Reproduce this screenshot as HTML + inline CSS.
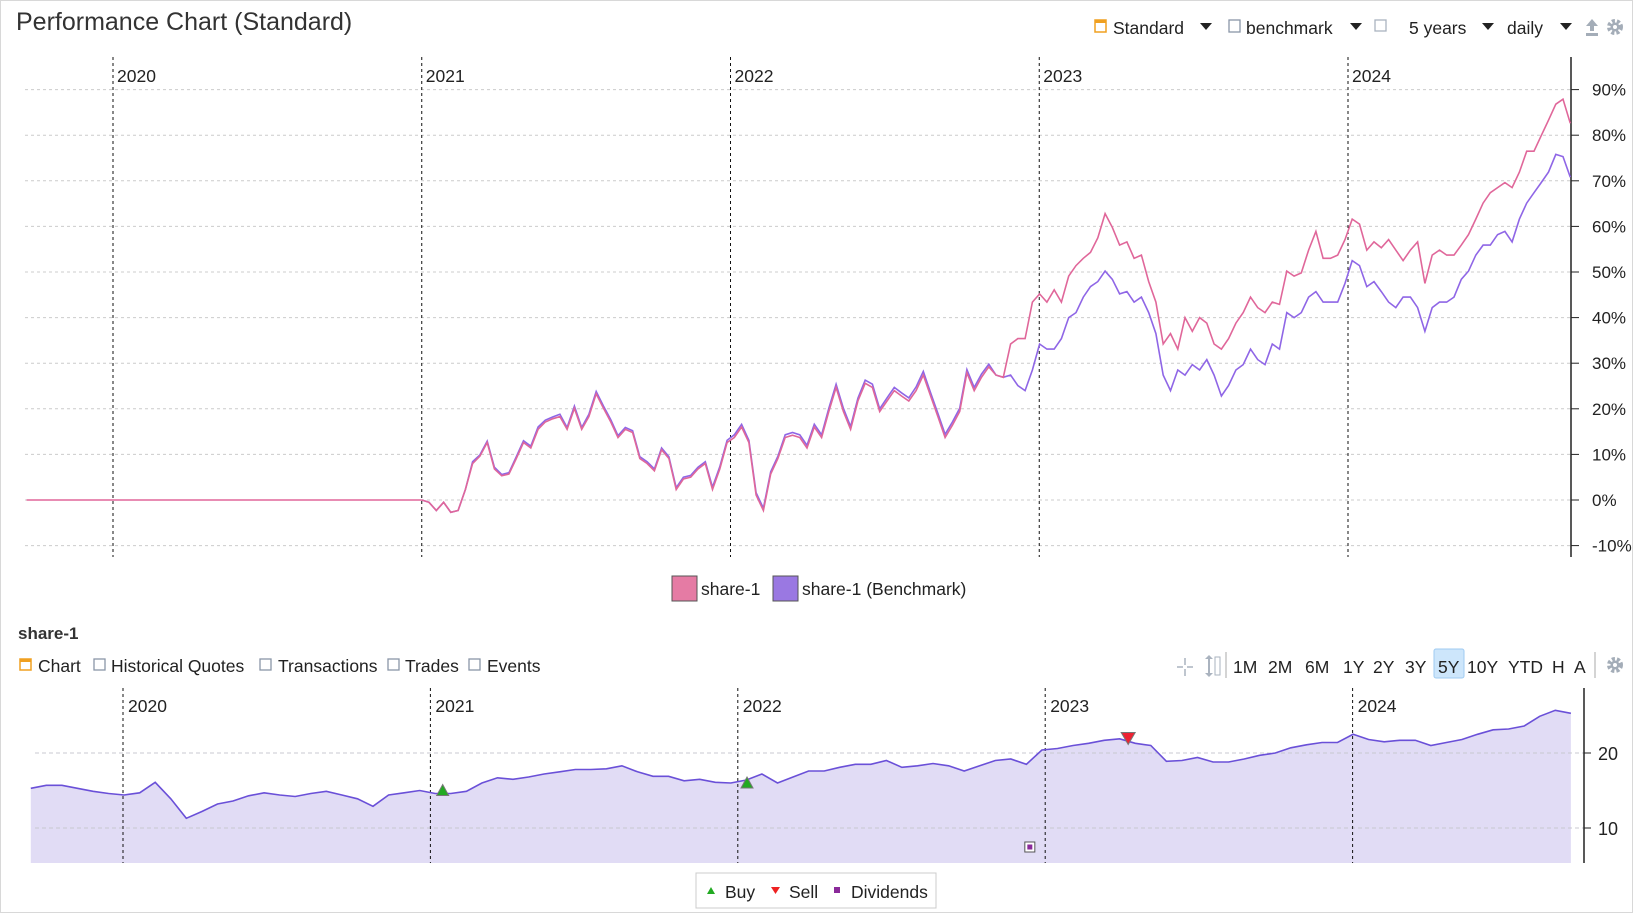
<!DOCTYPE html>
<html><head><meta charset="utf-8"><style>
html,body{margin:0;padding:0;background:#fff;width:1634px;height:914px;overflow:hidden}
svg{display:block;font-family:"Liberation Sans","DejaVu Sans",sans-serif}
</style></head><body>
<svg id="svg" width="1634" height="914" viewBox="0 0 1634 914" xmlns="http://www.w3.org/2000/svg">
<rect x="0.5" y="0.5" width="1632" height="912" fill="#fff" stroke="#d8d8d8"/>
<text x="16" y="30" font-size="25" fill="#333">Performance Chart (Standard)</text>
<g font-size="17.5" fill="#222">
 <g><rect x="1095" y="20" width="11" height="12" fill="none" stroke="#f0a020" stroke-width="1.5"/><rect x="1095" y="20" width="11" height="3" fill="#f0a020"/><text x="1113" y="34">Standard</text><path d="M1200 23h12l-6 7z" fill="#222"/></g>
 <g><rect x="1229" y="20" width="11" height="12" fill="none" stroke="#8a96a8" stroke-width="1.3"/><text x="1246" y="34">benchmark</text><path d="M1350 23h12l-6 7z" fill="#222"/></g>
 <g><rect x="1375" y="20" width="11" height="11" fill="none" stroke="#aab3bf" stroke-width="1.3"/></g>
 <g><text x="1409" y="34">5 years</text><path d="M1482 23h12l-6 7z" fill="#222"/></g>
 <g><text x="1507" y="34">daily</text><path d="M1560 23h12l-6 7z" fill="#222"/></g>
 <g><path d="M1586 26l6-7 6 7h-4v5h-4v-5z M1586 33h12v3h-12z" fill="#a4adb8"/></g>
 <g><circle cx="1615" cy="27" r="6" fill="none" stroke="#a4adb8" stroke-width="4" stroke-dasharray="3 2"/><circle cx="1615" cy="27" r="4.5" fill="#a4adb8"/><circle cx="1615" cy="27" r="2" fill="#fff"/></g>
</g>
<g id="main"></g>
<g font-size="17.5" fill="#222">
 <g><rect x="672" y="576" width="25" height="25" fill="#e57ba4" stroke="#555"/><text x="701" y="595">share-1</text></g>
 <g><rect x="773" y="576" width="25" height="25" fill="#9a78e2" stroke="#555"/><text x="802" y="595">share-1 (Benchmark)</text></g>
</g>
<text x="18" y="639" font-size="17" font-weight="bold" fill="#333">share-1</text>
<g font-size="17.5" fill="#222">
 <g><rect x="20" y="659" width="11" height="11" fill="none" stroke="#f0a020" stroke-width="1.5"/><rect x="20" y="659" width="11" height="3" fill="#f0a020"/><text x="38" y="672">Chart</text></g>
 <g><rect x="94" y="659" width="11" height="11" fill="none" stroke="#8a96a8" stroke-width="1.3"/><text x="111" y="672">Historical Quotes</text></g>
 <g><rect x="260" y="659" width="11" height="11" fill="none" stroke="#8a96a8" stroke-width="1.3"/><text x="278" y="672">Transactions</text></g>
 <g><rect x="388" y="659" width="11" height="11" fill="none" stroke="#8a96a8" stroke-width="1.3"/><text x="405" y="672">Trades</text></g>
 <g><rect x="469" y="659" width="11" height="11" fill="none" stroke="#8a96a8" stroke-width="1.3"/><text x="487" y="672">Events</text></g>
</g>
<g font-size="17.5" fill="#222">
 <g stroke="#aab3bf" stroke-width="1.5"><path d="M1185 658v7M1185 669v7M1177 667h6M1187 667h6"/></g>
 <g><path d="M1205 659l4-4 4 4zM1205 673l4 4 4-4z M1208 659h2v14h-2z" fill="#aab3bf"/><rect x="1215" y="657" width="5" height="18" fill="none" stroke="#aab3bf"/></g>
 <line x1="1226" y1="652" x2="1226" y2="678" stroke="#aaa"/>
 <rect x="1434" y="649" width="30" height="29" rx="2" fill="#cde6fb" stroke="#9fcbf2"/>
 <text x="1233" y="673">1M</text>
 <text x="1268" y="673">2M</text>
 <text x="1305" y="673">6M</text>
 <text x="1343" y="673">1Y</text>
 <text x="1373" y="673">2Y</text>
 <text x="1405" y="673">3Y</text>
 <text x="1438" y="673">5Y</text>
 <text x="1467" y="673">10Y</text>
 <text x="1508" y="673">YTD</text>
 <text x="1552" y="673">H</text>
 <text x="1574" y="673">A</text>
 <line x1="1595" y1="652" x2="1595" y2="678" stroke="#aaa"/>
 <g><circle cx="1615" cy="665" r="6" fill="none" stroke="#a4adb8" stroke-width="4" stroke-dasharray="3 2"/><circle cx="1615" cy="665" r="4.5" fill="#a4adb8"/><circle cx="1615" cy="665" r="2" fill="#fff"/></g>
</g>
<g id="price"></g>
<g font-size="17.5" fill="#222">
 <rect x="696" y="873" width="240" height="35" fill="#fff" stroke="#ccc"/>
 <g><path d="M707 894l4-7 4 7z" fill="#22aa22"/><text x="725" y="898">Buy</text></g>
 <g><path d="M771 887h9l-4.5 7z" fill="#ee2222"/><text x="789" y="898">Sell</text></g>
 <g><rect x="834" y="887" width="6" height="6" fill="#8a2a9a"/><text x="851" y="898">Dividends</text></g>
</g>
<script>
// ---- performance chart data ----
const perfStart = 2021.0, perfEnd = 2024.72, flatStart = 2019.72;
const shareValues = [0,-0.5,-2.3,-0.5,-2.7,-2.3,2.3,8.0,9.6,12.6,6.8,5.3,5.7,9.1,12.6,11.4,15.5,17.1,17.8,18.3,15.5,20.1,15.5,18.3,23.3,20.1,17.1,13.7,15.5,14.8,9.1,8.0,6.4,11.0,9.1,2.3,4.6,5.0,6.8,8.0,2.3,6.8,12.6,13.7,16.0,12.6,1.1,-2.3,5.7,9.1,13.7,14.2,13.7,11.4,16.0,13.7,19.4,24.7,19.4,15.5,21.7,25.6,24.7,19.4,21.7,24.0,22.8,21.7,24.0,27.4,22.8,18.3,13.7,16.4,19.4,27.9,24.0,26.9,29.2,27.4,26.9,34.2,35.4,35.4,43.4,45.2,43.4,46.1,43.4,49.1,51.4,53.0,54.3,57.5,62.8,59.8,55.9,56.6,53.0,53.7,47.9,43.4,34.2,36.5,33.1,40.0,37.0,40.0,38.8,34.2,33.1,35.4,38.8,41.1,44.5,42.2,41.1,43.4,42.9,50.2,49.1,49.8,54.8,58.9,53.0,53.0,53.7,57.1,61.6,60.5,54.8,56.6,55.3,57.1,54.8,52.5,54.8,56.6,47.5,53.7,54.8,53.7,53.7,55.9,58.2,61.6,65.1,67.4,68.5,69.6,68.5,71.9,76.5,76.5,79.9,83.3,86.8,87.9,82.6];
const benchValues = [0,-0.5,-2.3,-0.5,-2.7,-2.3,2.3,8.4,9.9,12.9,7.2,5.6,6.0,9.5,13.0,11.8,16.0,17.5,18.2,18.8,15.9,20.6,15.9,18.8,23.8,20.6,17.6,14.1,15.9,15.2,9.5,8.4,6.8,11.4,9.5,2.7,5.0,5.4,7.2,8.4,2.8,7.3,13.1,14.3,16.6,13.1,1.6,-1.8,6.2,9.6,14.3,14.8,14.3,12.0,16.6,14.3,20.1,25.4,20.1,16.1,22.3,26.3,25.4,20.0,22.4,24.7,23.5,22.4,24.8,28.2,23.5,19.0,14.4,17.1,20.1,28.6,24.7,27.6,29.8,27.4,26.9,27.4,25.1,24.0,28.5,34.2,33.1,33.1,35.4,40.0,41.1,44.5,46.8,47.9,50.2,48.4,45.2,45.7,43.4,44.5,41.1,36.5,27.4,24.0,28.5,27.4,29.7,28.5,30.8,27.4,22.8,25.1,28.5,29.7,33.1,30.8,29.7,34.2,33.1,41.1,40.0,41.1,44.5,45.7,43.4,43.4,43.4,47.5,52.5,51.4,46.8,47.9,45.7,43.4,42.2,44.5,44.5,42.2,37.0,42.2,43.4,43.4,44.5,48.4,50.2,53.7,55.9,55.9,58.2,58.9,56.6,61.6,65.1,67.4,69.6,71.9,75.8,75.3,70.8];
const perfTicks = [90,80,70,60,50,40,30,20,10,0,-10];
const yearTicks = [2020,2021,2022,2023,2024];
// ---- price chart data ----
const priceStart = 2019.70, priceEnd = 2024.71;
const priceValues = [15.3,15.7,15.7,15.3,14.9,14.6,14.4,14.7,16.1,13.9,11.3,12.2,13.2,13.6,14.3,14.7,14.4,14.2,14.6,14.9,14.4,13.9,12.9,14.4,14.7,15.0,14.6,14.6,14.9,16.0,16.7,16.5,16.8,17.2,17.5,17.8,17.8,17.9,18.3,17.5,16.9,16.9,16.3,16.5,16.1,16.0,16.4,17.2,16.0,16.8,17.6,17.6,18.1,18.5,18.5,19.0,18.1,18.3,18.6,18.3,17.6,18.3,19.0,19.2,18.5,20.4,20.6,21.0,21.3,21.7,21.9,21.3,21.0,18.9,19.0,19.4,18.8,18.8,19.2,19.7,20.0,20.7,21.1,21.4,21.4,22.5,21.8,21.5,21.7,21.7,21.0,21.4,21.8,22.5,23.1,23.2,23.6,24.9,25.7,25.3];
const priceTicks = [20,10];
const buyDates = [2021.04,2022.03], buyPrices = [15.0,16.0];
const sellDates = [2023.27], sellPrices = [21.8];
const dividendDates = [2022.95];

const NS='http://www.w3.org/2000/svg';
function mk(parent,tag,attrs){const e=document.createElementNS(NS,tag);for(const k in attrs)e.setAttribute(k,attrs[k]);parent.appendChild(e);return e;}

const main=document.getElementById('main');
const PX=y=>113+(y-2020)*308.75;
const PY=v=>500-v*4.56;
const pTop=57,pBot=557,pL=25,pR=1571;
perfTicks.forEach(t=>{
 const g=mk(main,'line',{x1:pL,x2:pR,y1:PY(t),y2:PY(t),stroke:'#ccc','stroke-dasharray':'3 3'});
 
 
 const tk=mk(main,'line',{x1:pR,x2:pR+8,y1:PY(t),y2:PY(t),stroke:'#222'});
 
 
 const tx=mk(main,'text',{x:1592,y:PY(t)+6,'font-size':17,fill:'#222'});
 tx.textContent=t+'%';
 
 
});
yearTicks.forEach(yr=>{
 const l=mk(main,'line',{x1:PX(yr),x2:PX(yr),y1:pTop,y2:pBot,stroke:'#111','stroke-dasharray':'3 3'});
 
 
 const t=mk(main,'text',{x:PX(yr)+4,y:82,'font-size':17.5,fill:'#222'});
 t.textContent=yr;
 
 
});
const ax=mk(main,'line',{x1:pR,x2:pR,y1:pTop,y2:pBot,stroke:'#222','stroke-width':1.5});


function linePath(vals,start,end){const n=vals.length;return vals.map((v,i)=>(i?'L':'M')+PX(start+(end-start)*i/(n-1)).toFixed(1)+' '+PY(v).toFixed(1)).join('');}
const flat=mk(main,'path',{d:'M'+PX(flatStart)+' '+PY(0)+'L'+PX(perfStart)+' '+PY(0),stroke:'#e0679a',fill:'none','stroke-width':1.6});


const bl=mk(main,'path',{d:linePath(benchValues,perfStart,perfEnd),stroke:'#8f66e6',fill:'none','stroke-width':1.6});


const sl=mk(main,'path',{d:linePath(shareValues,perfStart,perfEnd),stroke:'#e0679a',fill:'none','stroke-width':1.6});



const pr=document.getElementById('price');
const QX=y=>123+(y-2020)*307.4;
const QY=v=>753-(v-20)*7.5;
const qTop=688,qBot=863,qAx=1584;
const n=priceValues.length;
let d='M'+QX(priceStart).toFixed(1)+' '+qBot;
let dl='';
priceValues.forEach((v,i)=>{const x=QX(priceStart+(priceEnd-priceStart)*i/(n-1)).toFixed(1);d+='L'+x+' '+QY(v).toFixed(1);dl+=(i?'L':'M')+x+' '+QY(v).toFixed(1);});
d+='L'+QX(priceEnd).toFixed(1)+' '+qBot+'Z';
const area=mk(pr,'path',{d:d,fill:'#e1dcf5'});


priceTicks.forEach(t=>{
 const g=mk(pr,'line',{x1:35,x2:qAx,y1:QY(t),y2:QY(t),stroke:'#c8c8d0','stroke-dasharray':'4 3'});
 
 
 const tk=mk(pr,'line',{x1:qAx,x2:qAx+7,y1:QY(t),y2:QY(t),stroke:'#222'});
 
 
 const tx=mk(pr,'text',{x:1598,y:QY(t)+7,'font-size':18,fill:'#222'});
 tx.textContent=t;
 
 
});
yearTicks.forEach(yr=>{
 const l=mk(pr,'line',{x1:QX(yr),x2:QX(yr),y1:qTop,y2:qBot,stroke:'#111','stroke-dasharray':'3 3'});
 
 
 const t=mk(pr,'text',{x:QX(yr)+5,y:712,'font-size':17.5,fill:'#222'});
 t.textContent=yr;
 
 
});
const pl=mk(pr,'path',{d:dl,stroke:'#6a50d8',fill:'none','stroke-width':1.6});


const pax=mk(pr,'line',{x1:qAx,x2:qAx,y1:qTop,y2:qBot,stroke:'#222','stroke-width':1.5});


buyDates.forEach((dt,i)=>{
 const x=QX(dt),y=QY(buyPrices[i]);
 const m=mk(pr,'path',{d:`M${x-6} ${y+5}L${x} ${y-6}L${x+6} ${y+5}Z`,fill:'#22aa22',stroke:'#777','stroke-width':1});
 
 
});
sellDates.forEach((dt,i)=>{
 const x=QX(dt),y=QY(sellPrices[i]);
 const m=mk(pr,'path',{d:`M${x-7} ${y-7}L${x+7} ${y-7}L${x} ${y+5}Z`,fill:'#ee2233',stroke:'#777','stroke-width':1});
 
 
});
dividendDates.forEach(dt=>{
 const x=QX(dt);
 const m=mk(pr,'rect',{x:x-5,y:842,width:10,height:10,fill:'#fff',stroke:'#555'});
 
 
 const c=mk(pr,'rect',{x:x-2.5,y:844.5,width:5,height:5,fill:'#8a2a9a'});
 
 
});
</script>
</svg>
</body></html>
